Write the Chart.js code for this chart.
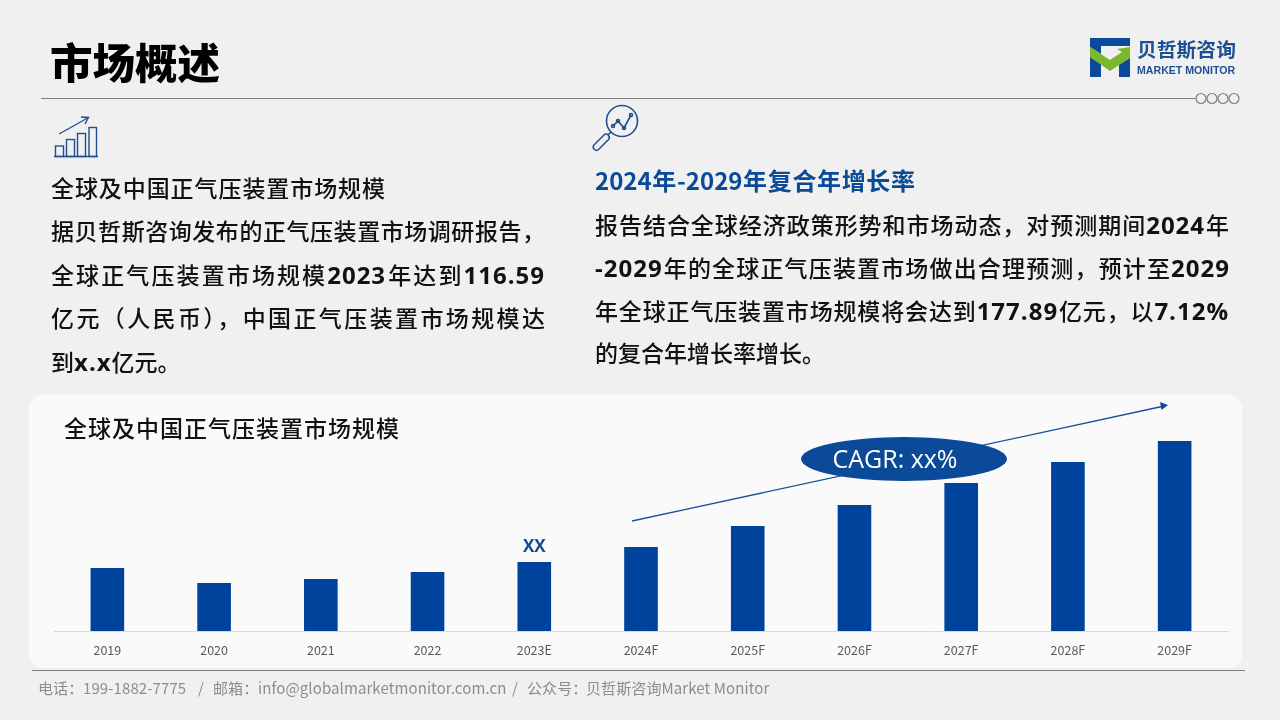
<!DOCTYPE html>
<html>
<head>
<meta charset="utf-8">
<script src="https://cdn.jsdelivr.net/npm/chart.js@4"></script>
<style>
html, body { margin: 0; padding: 0; }
body { width: 1280px; height: 720px; overflow: hidden; background: #f0f0f0; position: relative;
  font-family: "Noto Sans CJK SC", "Noto Sans", sans-serif; color: #111; }
#panel { position: absolute; left: 29px; top: 395px; width: 1213px; height: 273px; background: #fafafa; border-radius: 14px; }
#chartBox { position: absolute; left: 29px; top: 395px; width: 1213px; height: 273px; }
#overlay { position: absolute; left: 0; top: 0; }
.t { position: absolute; white-space: nowrap; font-size: 23px; line-height: 30px; font-weight: 500; }
.j { text-align: justify; text-align-last: justify; white-space: normal; }
.t b { font: 700 24px/30px "Open Sans", sans-serif; letter-spacing: 1px; }
#title { position: absolute; left: 50px; top: 31px; font-size: 42.5px; line-height: 60px; font-weight: 900; color: #000; }
#cagr { position: absolute; left: 801px; top: 437px; width: 188px; height: 44px; text-align: center;
  color: #fff; font: 25px/43px "Open Sans", sans-serif; }
.f { position: absolute; top: 677px; font-size: 15px; line-height: 22px; color: #8c8c8c; white-space: nowrap; letter-spacing: 0.1px; }
#logoCn { position: absolute; left: 1137px; top: 35px; font-size: 19.8px; line-height: 28px; font-weight: 700; color: #1d4f91; white-space: nowrap; }
#logoEn { position: absolute; left: 1137px; top: 62px; font: 700 10.6px/16px "Liberation Sans", sans-serif; color: #1d4f91; white-space: nowrap; }
</style>
</head>
<body>
<div id="panel"></div>
<div id="chartBox"><canvas id="barChart" width="1213" height="273"></canvas></div>

<svg id="overlay" width="1280" height="720" fill="none">
  <!-- header rule and rings -->
  <line x1="41" y1="98.5" x2="1196" y2="98.5" stroke="#7f7f7f"/>
  <g stroke="#7f7f7f" stroke-width="1.2">
    <circle cx="1201" cy="98.5" r="5"/><circle cx="1212" cy="98.5" r="5"/>
    <circle cx="1223" cy="98.5" r="5"/><circle cx="1234" cy="98.5" r="5"/>
  </g>
  <line x1="32" y1="670.5" x2="1245" y2="670.5" stroke="#7f7f7f"/>
  <!-- logo -->
  <polygon points="1090,38 1130,38 1130,46 1101,46 1101,54 1090,47" fill="#0b4a99"/>
  <polygon points="1090,57 1101,64 1101,77 1090,77" fill="#0b4a99"/>
  <polygon points="1130,58 1119,64 1119,77 1130,77" fill="#0b4a99"/>
  <polygon points="1090,47 1110,60 1122,52 1117,49 1130,47 1130,58 1110,71 1090,57" fill="#7ab82e"/>
  <!-- chart icon -->
  <g stroke="#1f4f91" stroke-width="1.4">
    <line x1="54" y1="156.5" x2="98" y2="156.5"/>
    <rect x="55.5" y="146" width="8" height="10.5"/><rect x="66.5" y="139.5" width="8" height="17"/>
    <rect x="77.5" y="133.5" width="8" height="23"/><rect x="89" y="127.5" width="7.5" height="29"/>
    <line x1="59" y1="134" x2="88.5" y2="117.5"/><polyline points="81,117 88.5,117.5 85,124"/>
  </g>
  <!-- magnifier icon -->
  <g stroke="#1f4f91" stroke-width="1.6">
    <circle cx="622" cy="121" r="15.5"/>
    <line x1="611" y1="132" x2="607" y2="136"/>
    <line x1="596.5" y1="147" x2="606" y2="137.5" stroke-width="8" stroke-linecap="round"/>
    <line x1="596.5" y1="147" x2="606" y2="137.5" stroke="#f0f0f0" stroke-width="5" stroke-linecap="round"/>
    <polyline points="613,126 618,121 624,128 631,115"/>
    <circle cx="613" cy="126" r="1.5"/><circle cx="618" cy="121" r="1.5"/><circle cx="624" cy="128" r="1.5"/><circle cx="631" cy="115" r="1.5"/>
  </g>
  <!-- CAGR arrow and ellipse -->
  <line x1="632" y1="521" x2="1162" y2="406.5" stroke="#1a4f98" stroke-width="1.3"/>
  <polygon points="1168,405 1160,402 1161.5,410" fill="#0b4a99"/>
  <ellipse cx="904" cy="459" rx="103" ry="22" fill="#0b4a99"/>
</svg>

<div id="title">市场概述</div>
<div id="logoCn">贝哲斯咨询</div>
<div id="logoEn">MARKET MONITOR</div>

<div class="t j" style="left:51px;top:172px;width:334px">全球及中国正气压装置市场规模</div>
<div class="t j" style="left:51px;top:215px;width:494px">据贝哲斯咨询发布的正气压装置市场调研报告，</div>
<div class="t j" style="left:51px;top:259px;width:494px">全球正气压装置市场规模<b>2023</b>年达到<b>116.59</b></div>
<div class="t j" style="left:51px;top:302px;width:494px">亿元（人民币），中国正气压装置市场规模达</div>
<div class="t" style="left:51px;top:346px">到<b>x.x</b>亿元。</div>

<div class="t j" style="left:595px;top:165px;width:320px;color:#0b4a94;font-size:24px;font-weight:700">2024年-2029年复合年增长率</div>
<div class="t j" style="left:595px;top:209px;width:634px">报告结合全球经济政策形势和市场动态，对预测期间<b>2024</b>年</div>
<div class="t j" style="left:595px;top:252px;width:635px"><b>-2029</b>年的全球正气压装置市场做出合理预测，预计至<b>2029</b></div>
<div class="t j" style="left:595px;top:295px;width:634px">年全球正气压装置市场规模将会达到<b>177.89</b>亿元，以<b>7.12%</b></div>
<div class="t" style="left:595px;top:337px">的复合年增长率增长。</div>

<div class="t j" style="left:64px;top:412px;width:335px">全球及中国正气压装置市场规模</div>
<div id="cagr">CAGR: xx%</div>

<div class="f" style="left:38px">电话：</div>
<div class="f" style="left:83px">199-1882-7775</div>
<div class="f" style="left:198px">/</div>
<div class="f" style="left:213px">邮箱：</div>
<div class="f" style="left:258px">info@globalmarketmonitor.com.cn</div>
<div class="f" style="left:512px">/</div>
<div class="f" style="left:527px">公众号：</div>
<div class="f" style="left:586px">贝哲斯咨询Market Monitor</div>

<script>
// values, scaled from the 116.59 (2023) and 177.89 (2029) in the text
const categories = ['2019', '2020', '2021', '2022', '2023E', '2024F', '2025F', '2026F', '2027F', '2028F', '2029F'];
const marketSize = [113.5, 105.9, 107.9, 111.5, 116.59, 124.2, 134.8, 145.4, 156.6, 167.2, 177.89];
const barLabels = ['', '', '', '', 'XX', '', '', '', '', '', ''];
const axisMin = 81.6;
const axisMax = 201.2;

// small inline plugin for the one label above the 2023E bar
const barLabelPlugin = {
  id: 'barLabel',
  afterDatasetsDraw(chart) {
    const ctx = chart.ctx;
    const bars = chart.getDatasetMeta(0).data;
    ctx.save();
    ctx.fillStyle = '#14488f';
    ctx.font = '700 17px "Open Sans"';
    ctx.textAlign = 'center';
    ctx.textBaseline = 'alphabetic';
    bars.forEach((bar, i) => {
      if (barLabels[i]) ctx.fillText(barLabels[i], bar.x, bar.y - 10);
    });
    ctx.restore();
  }
};

new Chart(document.getElementById('barChart').getContext('2d'), {
  type: 'bar',
  data: {
    labels: categories,
    datasets: [{
      label: '全球及中国正气压装置市场规模',
      data: marketSize,
      backgroundColor: '#00439c',
      barPercentage: 0.315,
      categoryPercentage: 1
    }]
  },
  options: {
    responsive: false,
    animation: false,
    layout: { padding: { left: 25, right: 14, top: 0, bottom: 6 } },
    plugins: { legend: { display: false }, tooltip: { enabled: false } },
    scales: {
      x: {
        grid: { display: false },
        border: { display: true, color: '#d9d9d9', width: 1 },
        ticks: { color: '#595959', font: { size: 12.5, family: '"Noto Sans CJK SC"' }, padding: 4, maxRotation: 0 }
      },
      y: { display: false, min: axisMin, max: axisMax }
    }
  },
  plugins: [barLabelPlugin]
});
</script>
</body>
</html>
